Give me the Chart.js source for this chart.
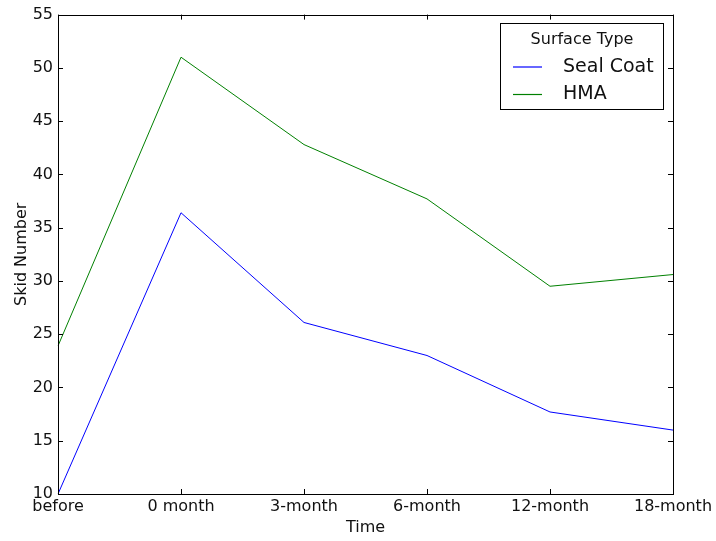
<!DOCTYPE html>
<html>
<head>
<meta charset="utf-8">
<script src="https://cdn.jsdelivr.net/npm/chart.js@4/dist/chart.umd.min.js"></script>
<style>
  body { margin: 0; background: #fff; }
  #wrap { width: 716px; height: 541px; }
</style>
</head>
<body>
<div id="wrap"><canvas id="skid_chart" width="716" height="541"></canvas></div>
<script>
// Data
const time_labels = ['before', '0 month', '3-month', '6-month', '12-month', '18-month'];
const seal_coat = [10.0, 36.4, 26.1, 23.0, 17.7, 16.0];
const hma = [23.9, 51.0, 42.8, 37.7, 29.5, 30.6];
const y_ticks = [10, 15, 20, 25, 30, 35, 40, 45, 50, 55];

const font_name = '"DejaVu Sans", sans-serif';
const text_color = '#111';

// frame + inward ticks, matplotlib style
const framePlugin = {
    id: 'frame',
    afterDatasetsDraw(chart) {
        const ctx = chart.ctx;
        const a = chart.chartArea;
        const xs = chart.scales.x;
        const ys = chart.scales.y;
        ctx.save();
        ctx.strokeStyle = '#000';
        ctx.lineWidth = 1;
        ctx.strokeRect(Math.round(a.left) + 0.5, Math.round(a.top) + 0.5,
            Math.round(a.right - a.left), Math.round(a.bottom - a.top));
        ctx.beginPath();
        xs.ticks.forEach((t, i) => {
            const x = Math.round(xs.getPixelForTick(i)) + 0.5;
            ctx.moveTo(x, a.bottom); ctx.lineTo(x, a.bottom - 5);
            ctx.moveTo(x, a.top); ctx.lineTo(x, a.top + 5);
        });
        ys.ticks.forEach((t, i) => {
            const y = Math.round(ys.getPixelForTick(i)) + 0.5;
            ctx.moveTo(a.left, y); ctx.lineTo(a.left + 5, y);
            ctx.moveTo(a.right, y); ctx.lineTo(a.right - 5, y);
        });
        ctx.stroke();

        // legend box in the upper right
        const bx = 500.5, by = 23.5, bw = 163, bh = 86;
        ctx.fillStyle = '#fff';
        ctx.fillRect(bx, by, bw, bh);
        ctx.strokeRect(bx, by, bw, bh);
        ctx.fillStyle = text_color;
        ctx.textBaseline = 'middle';
        ctx.textAlign = 'center';
        ctx.font = '16px ' + font_name;
        ctx.fillText('Surface Type', bx + bw / 2, 40);
        ctx.textAlign = 'left';
        ctx.font = '19px ' + font_name;
        chart.data.datasets.forEach((ds, i) => {
            const y = 67 + i * 27.5;
            ctx.strokeStyle = ds.borderColor;
            ctx.lineWidth = 1.2;
            ctx.beginPath();
            ctx.moveTo(513, y); ctx.lineTo(542, y);
            ctx.stroke();
            ctx.fillText(ds.label, 563, y);
        });
        ctx.restore();
    }
};

const skid_config = {
    type: 'line',
    data: {
        labels: time_labels,
        datasets: [{
            label: 'Seal Coat',
            data: seal_coat,
            borderColor: '#0000ff',
            borderWidth: 1,
            pointRadius: 0,
            tension: 0
        }, {
            label: 'HMA',
            data: hma,
            borderColor: '#008000',
            borderWidth: 1,
            pointRadius: 0,
            tension: 0
        }]
    },
    options: {
        responsive: false,
        animation: false,
        layout: { padding: { top: 14, right: 43, left: 0, bottom: 0 } },
        plugins: {
            legend: { display: false },
            tooltip: { enabled: false }
        },
        scales: {
            x: {
                offset: false,
                grid: { display: false, drawTicks: false },
                border: { display: false },
                ticks: { color: text_color, font: { family: font_name, size: 16 }, padding: 3, maxRotation: 0, autoSkip: false },
                title: { display: true, text: 'Time', color: text_color, font: { family: font_name, size: 16 }, padding: { top: 0 } },
                afterFit(scale) { scale.height = 47; }
            },
            y: {
                min: 10,
                max: 55,
                afterBuildTicks(scale) { scale.ticks = y_ticks.map(v => ({ value: v })); },
                grid: { display: false, drawTicks: false },
                border: { display: false },
                ticks: { color: text_color, font: { family: font_name, size: 16 }, padding: 5 },
                title: { display: true, text: 'Skid Number', color: text_color, font: { family: font_name, size: 16 }, padding: { top: 12, bottom: 4 } },
                afterFit(scale) { scale.width = 58; }
            }
        }
    },
    plugins: [framePlugin]
};

const skidChart = new Chart(document.getElementById('skid_chart'), skid_config);
</script>
</body>
</html>
